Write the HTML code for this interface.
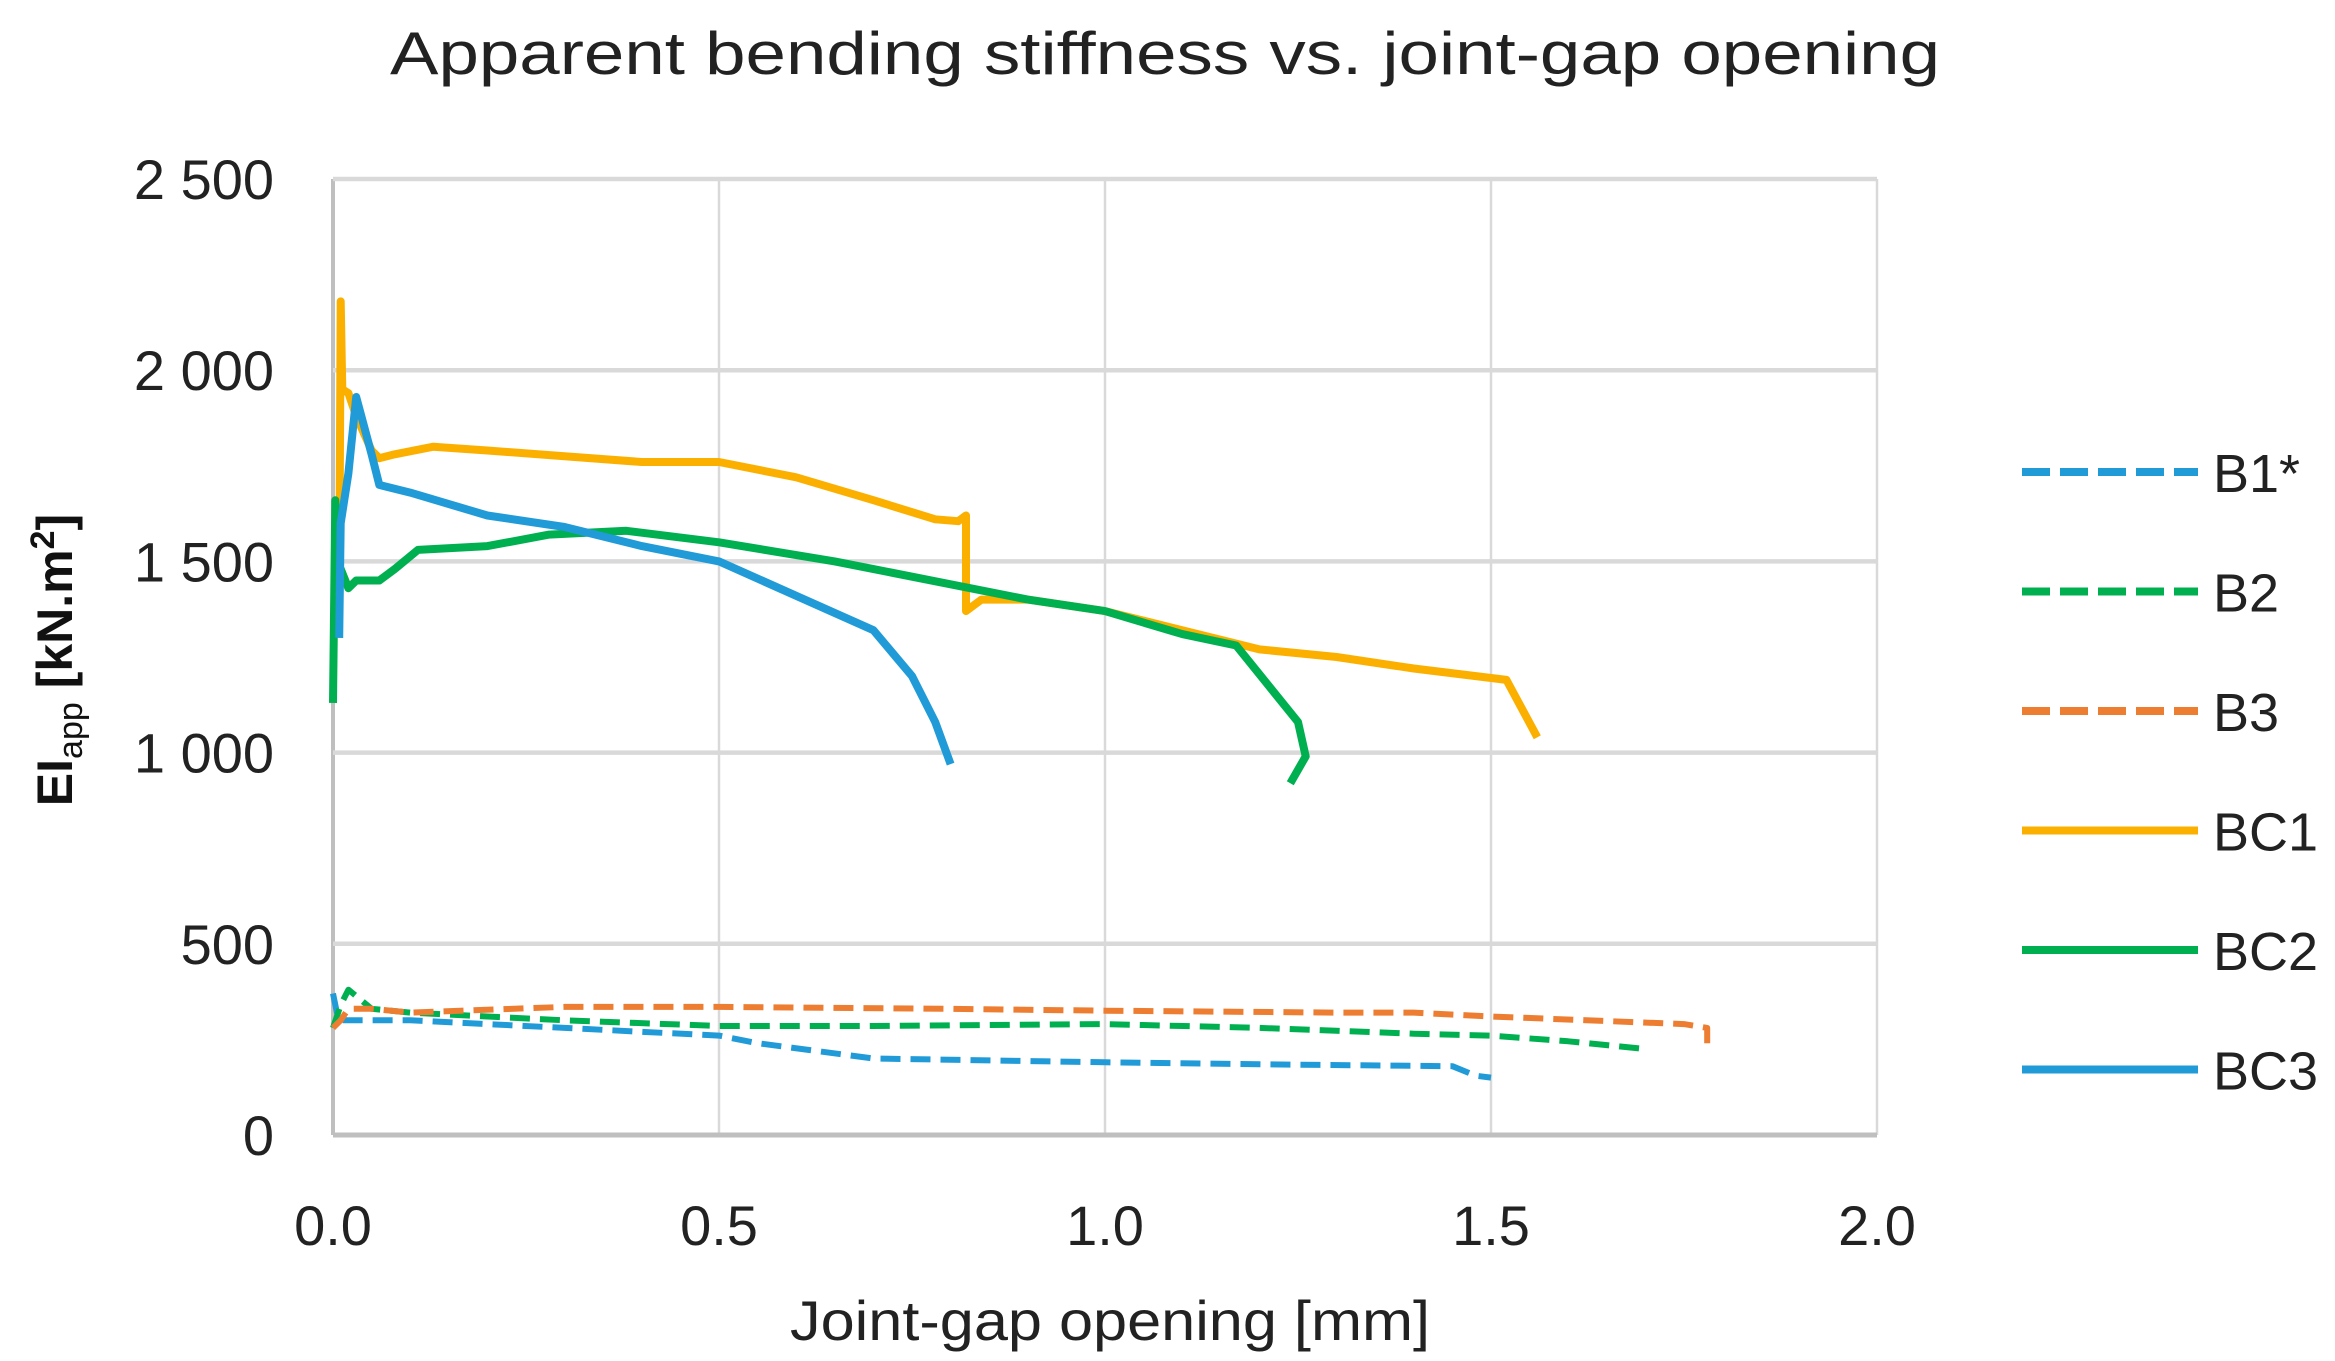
<!DOCTYPE html>
<html><head><meta charset="utf-8"><style>
html,body{margin:0;padding:0;background:#fff;}
svg{display:block;font-family:"Liberation Sans",sans-serif;}
</style></head><body>
<svg id="chart" width="2335" height="1361" viewBox="0 0 2335 1361">
<text x="1165" y="74" text-anchor="middle" font-size="60" fill="#222" textLength="1550" lengthAdjust="spacingAndGlyphs">Apparent bending stiffness vs. joint-gap opening</text>
<g id="grid"></g>
<g id="series"></g>
<g id="ticks"></g>
<text x="1110" y="1340" text-anchor="middle" font-size="56" fill="#222" textLength="640" lengthAdjust="spacingAndGlyphs">Joint-gap opening [mm]</text>
<text transform="translate(72,660) rotate(-90)" text-anchor="middle" font-size="50" font-weight="bold" fill="#111">EI<tspan font-size="34" font-weight="normal" dy="10">app</tspan><tspan dy="-10"> [kN.m</tspan><tspan font-size="34" dy="-18">2</tspan><tspan dy="18">]</tspan></text>
<g id="legend"></g>
</svg>
<script>
const xTicks=[0,0.5,1.0,1.5,2.0];
const xTickLabels=["0.0","0.5","1.0","1.5","2.0"];
const yTicks=[0,500,1000,1500,2000,2500];
const yTickLabels=["0","500","1 000","1 500","2 000","2 500"];
const seriesNames=["B1*","B2","B3","BC1","BC2","BC3"];
const seriesColors=["#219bd8","#00b050","#ed7d31","#fbb000","#00b050","#219bd8"];
const seriesDashed=[true,true,true,false,false,false];
const b1X=[0,0.005,0.01,0.1,0.2,0.3,0.4,0.5,0.55,0.7,0.85,1.0,1.2,1.45,1.48,1.5];
const b1Y=[370,320,300,300,290,280,270,260,240,200,195,190,185,180,155,150];
const b2X=[0,0.01,0.02,0.05,0.1,0.3,0.5,0.7,1.0,1.2,1.4,1.5,1.6,1.7];
const b2Y=[280,340,380,330,320,300,285,285,290,280,265,260,245,225];
const b3X=[0,0.01,0.02,0.05,0.1,0.3,0.5,0.8,1.0,1.3,1.4,1.5,1.75,1.78,1.78];
const b3Y=[280,300,330,330,320,335,335,330,325,320,320,310,290,280,240];
const bc1X=[0.008,0.01,0.012,0.02,0.03,0.05,0.06,0.08,0.13,0.2,0.3,0.4,0.5,0.6,0.7,0.78,0.81,0.82,0.82,0.84,0.9,1.0,1.1,1.2,1.3,1.4,1.52,1.56];
const bc1Y=[1400,2180,1950,1940,1880,1790,1770,1780,1800,1790,1775,1760,1760,1720,1660,1610,1605,1620,1370,1400,1400,1370,1320,1270,1250,1220,1190,1040];
const bc2X=[0,0.003,0.006,0.01,0.02,0.03,0.06,0.08,0.11,0.2,0.28,0.38,0.5,0.65,0.8,0.9,1.0,1.1,1.17,1.21,1.25,1.26,1.24];
const bc2Y=[1130,1660,1400,1480,1430,1450,1450,1480,1530,1540,1570,1580,1550,1500,1440,1400,1370,1310,1280,1180,1080,990,920];
const bc3X=[0.008,0.01,0.02,0.03,0.05,0.06,0.1,0.2,0.3,0.4,0.5,0.6,0.7,0.75,0.78,0.8];
const bc3Y=[1300,1600,1730,1930,1780,1700,1680,1620,1590,1540,1500,1410,1320,1200,1080,970];
const allX=[b1X,b2X,b3X,bc1X,bc2X,bc3X];
const allY=[b1Y,b2Y,b3Y,bc1Y,bc2Y,bc3Y];

const X0=333,X1=1877,Y0=1135,Y1=179;
const sx=v=>X0+(v-0)/(2.0-0)*(X1-X0);
const sy=v=>Y0-(v-0)/(2500-0)*(Y0-Y1);
const NS="http://www.w3.org/2000/svg";
function mk(tag,attrs,parent){const e=document.createElementNS(NS,tag);for(const k in attrs)e.setAttribute(k,attrs[k]);parent.appendChild(e);return e;}
const grid=document.getElementById('grid'),ticks=document.getElementById('ticks'),ser=document.getElementById('series'),leg=document.getElementById('legend');
xTicks.forEach((t,i)=>{
  const l=mk('line',{x1:sx(t),x2:sx(t),y1:Y1,y2:Y0,stroke:i==0?'#bfbfbf':'#d9d9d9','stroke-width':i==0?4:2.5},grid);
  
  
  const tx=mk('text',{x:sx(t),y:1245,'text-anchor':'middle','font-size':56,fill:'#222'},ticks);
  tx.textContent=xTickLabels[i];
  
  
});
yTicks.forEach((t,i)=>{
  const l=mk('line',{x1:X0,x2:X1,y1:sy(t),y2:sy(t),stroke:i==0?'#bfbfbf':'#d9d9d9','stroke-width':i==0?5:4.5},grid);
  
  
  const tx=mk('text',{x:274,y:sy(t)+20,'text-anchor':'end','font-size':56,fill:'#222'},ticks);
  tx.textContent=yTickLabels[i];
  
  
});
seriesNames.forEach((n,i)=>{
  const pts=allX[i].map((x,j)=>sx(x).toFixed(1)+','+sy(allY[i][j]).toFixed(1)).join(' ');
  const p=mk('polyline',{points:pts,fill:'none',stroke:seriesColors[i],'stroke-width':seriesDashed[i]?6:8,'stroke-linejoin':'round','stroke-dasharray':seriesDashed[i]?'20 10':'none'},ser);
  
  
  const ly=472+i*119.5;
  const g=mk('g',{},leg);
  
  
  mk('line',{x1:2022,x2:2198,y1:ly,y2:ly,stroke:seriesColors[i],'stroke-width':8,'stroke-dasharray':seriesDashed[i]?'28 10':'none'},g);
  const tx=mk('text',{x:2213,y:ly+20,'font-size':54,fill:'#222'},g);
  tx.textContent=n;
});
</script>
</body></html>
